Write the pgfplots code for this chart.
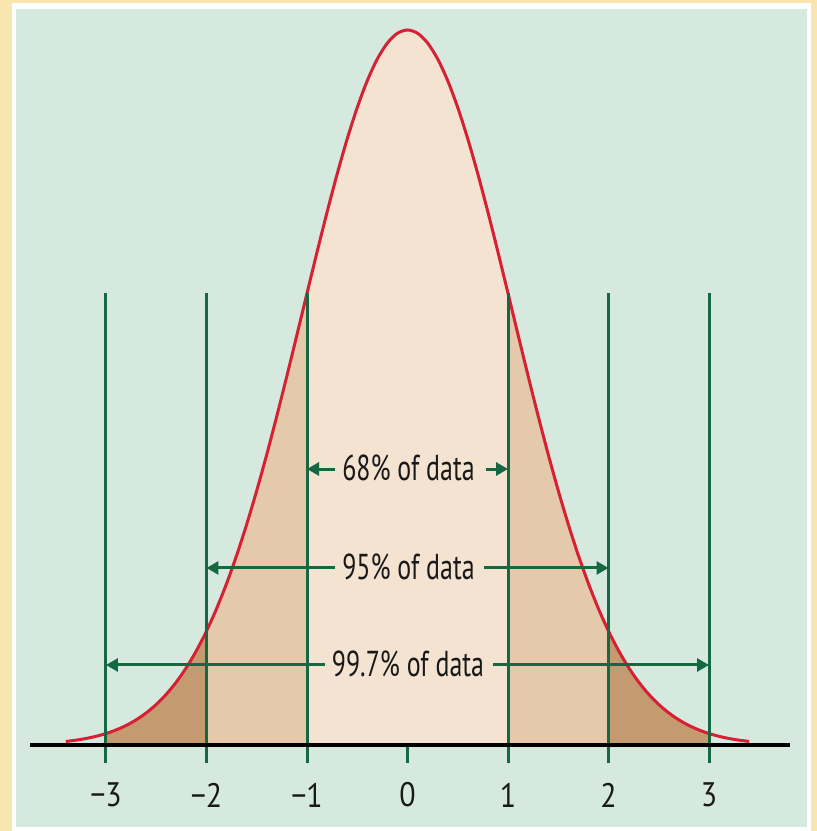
\documentclass[border=0pt]{standalone}
\usepackage{pgfplots}
\pgfplotsset{compat=1.18}
\usepackage{pgfplotstable}
\usepgfplotslibrary{fillbetween}
\usetikzlibrary{arrows.meta}
\usepackage{fontspec}
\setmainfont{PT Sans}
\newfontfamily\narrowfont{PT Sans}[FakeStretch=0.72]
\newfontfamily\tickfont{PT Sans}[FakeStretch=0.88]

\definecolor{panel}{RGB}{214,233,223}
\definecolor{glow}{RGB}{248,229,176}
\definecolor{band1}{RGB}{243,227,208}
\definecolor{band2}{RGB}{228,201,170}
\definecolor{band3}{RGB}{196,155,112}
\definecolor{curvered}{RGB}{214,32,52}
\definecolor{guide}{RGB}{22,104,66}

% bell curve, height relative to the peak
\pgfplotstableread{
x y
-3.4 0.00495
-3.3 0.00674
-3.2 0.00908
-3.1 0.01212
-3.0 0.01604
-2.9 0.02104
-2.8 0.02732
-2.7 0.03518
-2.6 0.04487
-2.5 0.05672
-2.4 0.07101
-2.3 0.08813
-2.2 0.10836
-2.1 0.13205
-2.0 0.15937
-1.9 0.19061
-1.8 0.22593
-1.7 0.26530
-1.6 0.30868
-1.5 0.35590
-1.4 0.40660
-1.3 0.46028
-1.2 0.51626
-1.1 0.57375
-1.0 0.63182
-0.9 0.68943
-0.8 0.74540
-0.7 0.79854
-0.6 0.84765
-0.5 0.89156
-0.4 0.92917
-0.3 0.95952
-0.2 0.98180
-0.1 0.99542
0.0 1.00000
0.1 0.99542
0.2 0.98180
0.3 0.95952
0.4 0.92917
0.5 0.89156
0.6 0.84765
0.7 0.79854
0.8 0.74540
0.9 0.68943
1.0 0.63182
1.1 0.57375
1.2 0.51626
1.3 0.46028
1.4 0.40660
1.5 0.35590
1.6 0.30868
1.7 0.26530
1.8 0.22593
1.9 0.19061
2.0 0.15937
2.1 0.13205
2.2 0.10836
2.3 0.08813
2.4 0.07101
2.5 0.05672
2.6 0.04487
2.7 0.03518
2.8 0.02732
2.9 0.02104
3.0 0.01604
3.1 0.01212
3.2 0.00908
3.3 0.00674
3.4 0.00495
}\bellcurve

\begin{document}
\begin{tikzpicture}
\begin{axis}[
  set layers,
  x=50.25pt, y=357.5pt,
  xmin=-4.0547, xmax=4.0746,
  ymin=-0.12028, ymax=1.04196,
  hide axis, clip=false,
]
% frame and panel
\begin{pgfonlayer}{axis background}
\fill[glow] (axis cs:-4.0547,-0.12028) rectangle (axis cs:4.0746,1.04196);
\fill[white] (axis cs:-3.935,-0.12028) rectangle (axis cs:4.015,1.0378);
\fill[panel] (axis cs:-3.896,-0.1147) rectangle (axis cs:3.975,1.0287);
\end{pgfonlayer}

\addplot[draw=none, name path=curve, forget plot] table {\bellcurve};
\addplot[draw=none, name path=base, forget plot] coordinates {(-3.5,0) (3.5,0)};

% shaded bands under the curve
\addplot[band1, draw=none] fill between[of=curve and base, soft clip={domain=-1:1}];
\addplot[band2, draw=none] fill between[of=curve and base, soft clip={domain=-2:-1}];
\addplot[band2, draw=none] fill between[of=curve and base, soft clip={domain=1:2}];
\addplot[band3, draw=none] fill between[of=curve and base, soft clip={domain=-3:-2}];
\addplot[band3, draw=none] fill between[of=curve and base, soft clip={domain=2:3}];

% the curve itself
\addplot[curvered, line width=1.5pt, smooth] table {\bellcurve};

% standard deviation guides
\addplot[guide, line width=1.5pt] coordinates {(-3,-0.0252) (-3,0.6318)};
\addplot[guide, line width=1.5pt] coordinates {(-2,-0.0252) (-2,0.6318)};
\addplot[guide, line width=1.5pt] coordinates {(-1,-0.0252) (-1,0.6318)};
\addplot[guide, line width=1.5pt] coordinates {(1,-0.0252) (1,0.6318)};
\addplot[guide, line width=1.5pt] coordinates {(2,-0.0252) (2,0.6318)};
\addplot[guide, line width=1.5pt] coordinates {(3,-0.0252) (3,0.6318)};
\addplot[guide, line width=1.5pt] coordinates {(0,-0.0252) (0,0)};

% baseline
\addplot[black, line width=2pt] coordinates {(-3.756,0) (3.806,0)};

% range arrows
\addplot[guide, line width=1.5pt, -{Triangle[length=6pt,width=6.5pt]}] coordinates {(-0.721,0.386) (-1,0.386)};
\addplot[guide, line width=1.5pt, -{Triangle[length=6pt,width=6.5pt]}] coordinates {(0.781,0.386) (1,0.386)};
\addplot[guide, line width=1.5pt, -{Triangle[length=6pt,width=6.5pt]}] coordinates {(-0.721,0.2476) (-2,0.2476)};
\addplot[guide, line width=1.5pt, -{Triangle[length=6pt,width=6.5pt]}] coordinates {(0.761,0.2476) (2,0.2476)};
\addplot[guide, line width=1.5pt, -{Triangle[length=6pt,width=6.5pt]}] coordinates {(-0.821,0.1119) (-3,0.1119)};
\addplot[guide, line width=1.5pt, -{Triangle[length=6pt,width=6.5pt]}] coordinates {(0.851,0.1119) (3,0.1119)};

\node[font=\narrowfont\fontsize{18}{20}\selectfont, text=black!90] at (axis cs:0.01,0.388) {68\% of data};
\node[font=\narrowfont\fontsize{18}{20}\selectfont, text=black!90] at (axis cs:0.01,0.2496) {95\% of data};
\node[font=\narrowfont\fontsize{18}{20}\selectfont, text=black!90] at (axis cs:0.005,0.1139) {99.7\% of data};

% tick labels
\node[font=\tickfont\fontsize{17}{19}\selectfont, text=black!90] at (axis cs:-3,-0.0699) {−3};
\node[font=\tickfont\fontsize{17}{19}\selectfont, text=black!90] at (axis cs:-2,-0.0699) {−2};
\node[font=\tickfont\fontsize{17}{19}\selectfont, text=black!90] at (axis cs:-1,-0.0699) {−1};
\node[font=\tickfont\fontsize{17}{19}\selectfont, text=black!90] at (axis cs:0,-0.0699) {0};
\node[font=\tickfont\fontsize{17}{19}\selectfont, text=black!90] at (axis cs:1,-0.0699) {1};
\node[font=\tickfont\fontsize{17}{19}\selectfont, text=black!90] at (axis cs:2,-0.0699) {2};
\node[font=\tickfont\fontsize{17}{19}\selectfont, text=black!90] at (axis cs:3,-0.0699) {3};
\end{axis}
\end{tikzpicture}
\end{document}
